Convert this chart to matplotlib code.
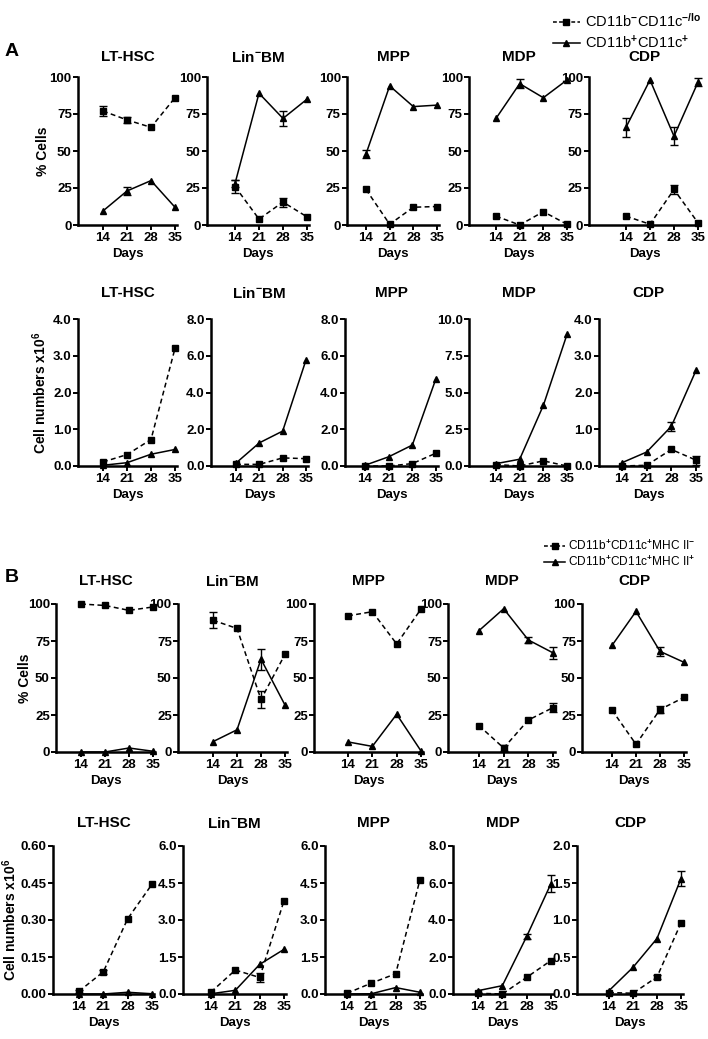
import matplotlib
matplotlib.use('Agg')
import matplotlib.pyplot as plt
from matplotlib.lines import Line2D
from matplotlib.ticker import FormatStrFormatter

plt.rcParams['font.family'] = ['Liberation Sans', 'DejaVu Sans']
plt.rcParams['font.weight'] = 'bold'
plt.rcParams['mathtext.fontset'] = 'custom'
plt.rcParams['mathtext.rm'] = 'Liberation Sans'
plt.rcParams['mathtext.bf'] = 'Liberation Sans:bold'
plt.rcParams['mathtext.it'] = 'Liberation Sans:italic'

# ---- data ----
days = [14, 21, 28, 35]
titles = ['LT-HSC', r'Lin$^{\mathbf{-}}$BM', 'MPP', 'MDP', 'CDP']

# A: % cells  (squares = CD11b-CD11c-/lo, triangles = CD11b+CD11c+)
a_pct_sq = [[77, 71, 66, 86], [26, 4, 15.5, 5.5], [24, 0.5, 12, 12.5],
            [6, 0, 9, 0.5], [6, 0.5, 24, 1.5]]
a_pct_sq_err = [[3.5, 2, 0, 0], [4.5, 0, 3, 0], [0, 0, 0, 0],
                [0, 0, 0, 0], [0, 0, 3, 0]]
a_pct_tri = [[9.5, 23, 30, 12], [28, 89, 72, 85], [48, 94, 80, 81],
             [72, 95.5, 86, 98], [66, 98, 60, 96.5]]
a_pct_tri_err = [[0, 3, 0, 0], [2.5, 0, 5, 0], [3, 0, 0, 0],
                 [0, 3, 0, 0], [6.5, 0, 6, 2.5]]

# A: cell numbers x10^6
a_num_sq = [[0.11, 0.31, 0.72, 3.2], [0.09, 0.09, 0.44, 0.4], [0, 0, 0.13, 0.7],
            [0.1, 0, 0.35, 0], [0, 0.02, 0.45, 0.16]]
a_num_sq_err = [[0, 0, 0, 0], [0, 0, 0, 0], [0, 0, 0, 0],
                [0, 0, 0, 0], [0, 0, 0, 0.12]]
a_num_tri = [[0.02, 0.09, 0.32, 0.45], [0.16, 1.26, 1.9, 5.77], [0.04, 0.5, 1.14, 4.76],
             [0.16, 0.46, 4.12, 8.95], [0.09, 0.38, 1.08, 2.6]]
a_num_tri_err = [[0, 0, 0, 0], [0, 0, 0, 0], [0, 0, 0, 0],
                 [0, 0, 0, 0], [0, 0, 0.12, 0]]

# B: % cells  (squares = MHC II-, triangles = MHC II+)
b_pct_sq = [[100, 99, 95.7, 98], [89, 83.5, 35.5, 66], [92, 94.8, 73, 96.6],
            [17.8, 2.7, 21.6, 30], [28.3, 5.2, 28.7, 36.9]]
b_pct_sq_err = [[0, 0, 0, 0], [5.5, 0, 6, 0], [0, 0, 0, 0],
                [0, 2, 0, 3], [0, 0, 2.5, 0]]
b_pct_tri = [[0, 0, 2.7, 0.5], [7, 15, 62.7, 31.7], [6.8, 3.8, 25.5, 0.7],
             [82, 96.8, 75.7, 67], [72, 95, 68, 60.6]]
b_pct_tri_err = [[0, 0, 0, 0], [0, 0, 7, 0], [0, 0, 0, 0],
                 [0, 0, 2, 4], [0, 0, 3, 0]]

# B: cell numbers x10^6
b_num_sq = [[0.011, 0.09, 0.305, 0.445], [0.08, 0.97, 0.67, 3.78], [0.03, 0.44, 0.82, 4.64],
            [0.04, 0, 0.9, 1.81], [0.02, 0.01, 0.23, 0.96]]
b_num_sq_err = [[0.005, 0.008, 0, 0], [0, 0, 0.2, 0], [0, 0, 0, 0],
                [0, 0, 0, 0], [0, 0, 0.03, 0]]
b_num_tri = [[0, 0, 0.007, 0.001], [0.01, 0.15, 1.2, 1.81], [0, 0.01, 0.26, 0.07],
             [0.18, 0.45, 3.11, 5.97], [0.045, 0.36, 0.75, 1.56]]
b_num_tri_err = [[0, 0, 0, 0], [0, 0, 0, 0], [0, 0, 0, 0],
                 [0, 0, 0.15, 0.45], [0, 0, 0, 0.1]]

# y scales
pct_ticks = [0, 25, 50, 75, 100]
a_num_ticks = [[0, 1, 2, 3, 4], [0, 2, 4, 6, 8], [0, 2, 4, 6, 8],
               [0, 2.5, 5, 7.5, 10], [0, 1, 2, 3, 4]]
b_num_ticks = [[0, 0.15, 0.30, 0.45, 0.60], [0, 1.5, 3, 4.5, 6], [0, 1.5, 3, 4.5, 6],
               [0, 2, 4, 6, 8], [0, 0.5, 1, 1.5, 2]]
b_num_fmt = ['%.2f', '%.1f', '%.1f', '%.1f', '%.1f']

legend_a = [r'CD11b$^{-}$CD11c$^{-\mathrm{/lo}}$', r'CD11b$^{+}$CD11c$^{+}$']
legend_b = [r'CD11b$^{+}$CD11c$^{+}$MHC II$^{-}$', r'CD11b$^{+}$CD11c$^{+}$MHC II$^{+}$']

# ---- layout (pixels) ----
W, H = 708, 1039
# (y of top tick, y of zero line, title y, ylabel x)
rows_y = [(77, 225, 57, 43), (319, 466, 293, 40), (604, 752, 581, 25), (846, 994, 823, 10)]
# per panel: x of y-axis, x of day 14, x of day 35
rows_x = [
    [(78, 103, 175), (207, 235, 307), (347, 366, 437), (469, 496, 567), (589, 626, 698)],
    [(78, 103, 175), (211, 236, 306), (345, 365, 436), (469, 496, 567), (599, 622, 696)],
    [(56, 81, 153), (178, 213, 285), (314, 348, 421), (448, 479, 553), (582, 612, 684)],
    [(53, 79, 152), (183, 211, 284), (325, 347, 420), (453, 478, 551), (577, 609, 681)],
]

fig = plt.figure(figsize=(W / 100, H / 100), dpi=100)


def draw_series(ax, y, err, marker, dashed):
    ls = '--' if dashed else '-'
    line, = ax.plot(days, y, color='black', ls=ls, lw=1.1, marker=marker,
                    ms=5, clip_on=False, zorder=3)
    if dashed:
        line.set_dashes((3.2, 2.2))
    ex = [d for d, e in zip(days, err) if e > 0]
    ey = [v for v, e in zip(y, err) if e > 0]
    ee = [e for e in err if e > 0]
    if ex:
        ax.errorbar(ex, ey, yerr=ee, fmt='none', ecolor='black', elinewidth=1.0,
                    capsize=2.6, capthick=1.0, clip_on=False, zorder=3)


def make_panel(r, c, sq, sq_err, tri, tri_err, ticks, fmt):
    ytop, ybot, ytitle, _ = rows_y[r]
    a, p14, p35 = rows_x[r][c]
    right = p35 + 2
    ax = fig.add_axes([a / W, 1 - ybot / H, (right - a) / W, (ybot - ytop) / H])
    scale = (p35 - p14) / 21.0
    ax.set_xlim(14 - (p14 - a) / scale, 35 + 2 / scale)
    ax.set_ylim(0, ticks[-1])
    draw_series(ax, sq, sq_err, 's', True)
    draw_series(ax, tri, tri_err, '^', False)
    for s in ['top', 'right']:
        ax.spines[s].set_visible(False)
    for s in ['left', 'bottom']:
        ax.spines[s].set_linewidth(1.8)
    ax.set_xticks(days)
    ax.set_yticks(ticks)
    ax.yaxis.set_major_formatter(FormatStrFormatter(fmt))
    ax.tick_params(axis='both', direction='out', length=3.5, width=1.4, labelsize=9.5)
    ax.tick_params(axis='x', pad=1.5)
    ax.tick_params(axis='y', pad=1)
    ax.set_xlabel('Days', fontsize=9.5, fontweight='bold', labelpad=3)
    fig.text((a + right) / 2 / W, 1 - ytitle / H, titles[c], ha='center', va='center',
             fontsize=11, fontweight='bold')
    return ax


for c in range(5):
    make_panel(0, c, a_pct_sq[c], a_pct_sq_err[c], a_pct_tri[c], a_pct_tri_err[c],
               pct_ticks, '%d')
    make_panel(1, c, a_num_sq[c], a_num_sq_err[c], a_num_tri[c], a_num_tri_err[c],
               a_num_ticks[c], '%.1f')
    make_panel(2, c, b_pct_sq[c], b_pct_sq_err[c], b_pct_tri[c], b_pct_tri_err[c],
               pct_ticks, '%d')
    make_panel(3, c, b_num_sq[c], b_num_sq_err[c], b_num_tri[c], b_num_tri_err[c],
               b_num_ticks[c], b_num_fmt[c])

# y labels
ylabels = ['% Cells', r'Cell numbers x10$^{\mathbf{6}}$', '% Cells', r'Cell numbers x10$^{\mathbf{6}}$']
for (ytop, ybot, _, xl), lab in zip(rows_y, ylabels):
    fig.text(xl / W, 1 - (ytop + ybot) / 2 / H, lab, rotation=90, ha='center', va='center',
             fontsize=10, fontweight='bold')

# panel letters
fig.text(12 / W, 1 - 51 / H, 'A', ha='center', va='center', fontsize=14, fontweight='bold')
fig.text(12 / W, 1 - 577 / H, 'B', ha='center', va='center', fontsize=14, fontweight='bold')

# legends
h_sq = Line2D([], [], color='black', ls='--', lw=1.1, marker='s', ms=5, dashes=(2.5, 1.5))
h_tri = Line2D([], [], color='black', ls='-', lw=1.1, marker='^', ms=5)
fig.legend([h_sq, h_tri], legend_a, loc='upper right', bbox_to_anchor=(712 / W, 1 - 2 / H),
           frameon=False, prop={'weight': 'normal', 'size': 10.5}, handlelength=1.8,
           handletextpad=0.4, labelspacing=0.25, borderpad=0.2)
fig.legend([h_sq, h_tri], legend_b, loc='upper right', bbox_to_anchor=(704 / W, 1 - 530 / H),
           frameon=False, prop={'weight': 'normal', 'size': 8.6}, handlelength=1.7,
           handletextpad=0.3, labelspacing=0.15, borderpad=0.2)

fig.savefig('out.png', dpi=100)
